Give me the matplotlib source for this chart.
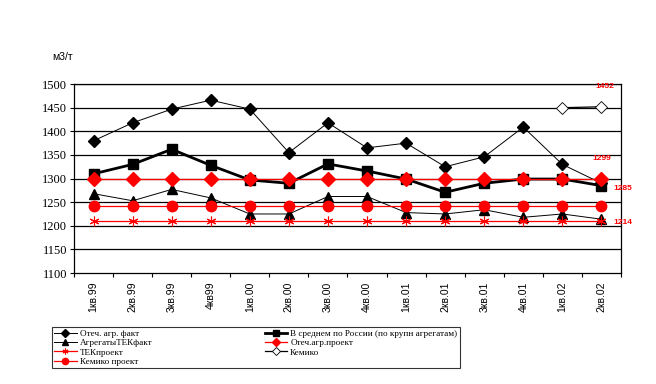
import matplotlib
matplotlib.use("Agg")
import matplotlib.pyplot as plt
import numpy as np

# quarters
quarters = ["1кв.99", "2кв.99", "3кв.99", "4кв99", "1кв.00", "2кв.00", "3кв.00",
            "4кв.00", "1кв.01", "2кв.01", "3кв.01", "4кв.01", "1кв.02", "2кв.02"]

# series values (m3/t)
otech_fakt = [1380, 1418, 1447, 1466, 1447, 1355, 1418, 1365, 1375, 1325, 1346, 1409, 1330, 1290]
russia_avg = [1310, 1330, 1362, 1328, 1297, 1290, 1331, 1316, 1299, 1271, 1290, 1299, 1299, 1285]
tek_fakt = [1268, 1253, 1277, 1259, 1225, 1225, 1262, 1262, 1228, 1225, 1234, 1218, 1225, 1214]
otech_proekt = [1299] * 14
tek_proekt = [1210] * 14
kemiko = [None] * 12 + [1450, 1452]
kemiko_proekt = [1242] * 14

x = np.arange(len(quarters))

fig = plt.figure(figsize=(6.56, 3.84), dpi=100)
ax = fig.add_axes([0.1128, 0.289, 0.8338, 0.492])

for y in range(1150, 1501, 50):
    ax.axhline(y, color="black", lw=0.9, zorder=0)

kem = np.array([np.nan if v is None else v for v in kemiko], dtype=float)

h1, = ax.plot(x, otech_fakt, color="black", lw=0.7, marker="D", ms=6.5, mfc="black", mec="black",
              label="Отеч. агр. факт", zorder=3)
h2, = ax.plot(x, russia_avg, color="black", lw=2.0, marker="s", ms=7.5, mfc="black", mec="black",
              label="В среднем по России (по крупн агрегатам)", zorder=3)
h3, = ax.plot(x, tek_fakt, color="black", lw=0.7, marker="^", ms=7.5, mfc="black", mec="black",
              label="АгрегатыТЕКфакт", zorder=3)
h4, = ax.plot(x, otech_proekt, color="red", lw=0.9, marker="D", ms=7, mfc="red", mec="red",
              label="Отеч.агр.проект", zorder=4)
h5, = ax.plot(x, tek_proekt, color="red", lw=0.9, marker=(6, 2, 0), ms=7, mfc="red", mec="red",
              mew=0.8, label="ТЕКпроект", zorder=4)
h6, = ax.plot(x, kem, color="black", lw=0.9, marker="D", ms=6.5, mfc="white", mec="black",
              mew=0.6, label="Кемико", zorder=4)
h7, = ax.plot(x, kemiko_proekt, color="red", lw=0.9, marker="o", ms=7.5, mfc="red", mec="red",
              label="Кемико проект", zorder=4)

# value labels near the last quarter
lab_kw = dict(color="red", fontsize=6, fontweight="bold", ha="center", va="center",
              family="Liberation Sans", clip_on=False)
ax.text(13.1, 1495, "1452", **lab_kw)
ax.text(13.0, 1342, "1299", **lab_kw)
ax.text(13.55, 1280, "1285", **lab_kw)
ax.text(13.55, 1208, "1214", **lab_kw)

ax.set_xlim(-0.5, 13.5)
ax.set_ylim(1100, 1500)
ax.set_yticks(range(1100, 1501, 50))
ax.set_yticklabels([str(v) for v in range(1100, 1501, 50)], family="Liberation Serif", fontsize=9)
ax.tick_params(axis="y", length=3, width=0.8, pad=2)

ax.set_xticks(x)
ax.set_xticklabels(quarters, rotation=90, family="Liberation Sans", fontsize=7.5)
ax.set_xticks(np.arange(-0.5, 14, 1), minor=True)
ax.tick_params(axis="x", which="major", length=0, pad=6)
ax.tick_params(axis="x", which="minor", length=3, width=0.8)

for s in ax.spines.values():
    s.set_linewidth(0.9)
    s.set_color("black")

fig.text(0.079, 0.852, "м3/т", fontsize=7.5, family="Liberation Sans", va="center")

handles = [h1, h3, h5, h7, h2, h4, h6]
leg = fig.legend(handles=handles, loc="lower left", bbox_to_anchor=(0.0716, 0.029, 0.636, 0.118),
                 mode="expand", ncol=2, frameon=True, fancybox=False,
                 borderpad=0.25, labelspacing=0.1, handlelength=2.5, handletextpad=0.3,
                 columnspacing=1.0, markerscale=0.6, prop={"family": "Liberation Serif", "size": 6.6})
leg.get_frame().set_edgecolor("black")
leg.get_frame().set_linewidth(0.8)

fig.savefig("out.png", dpi=100)
